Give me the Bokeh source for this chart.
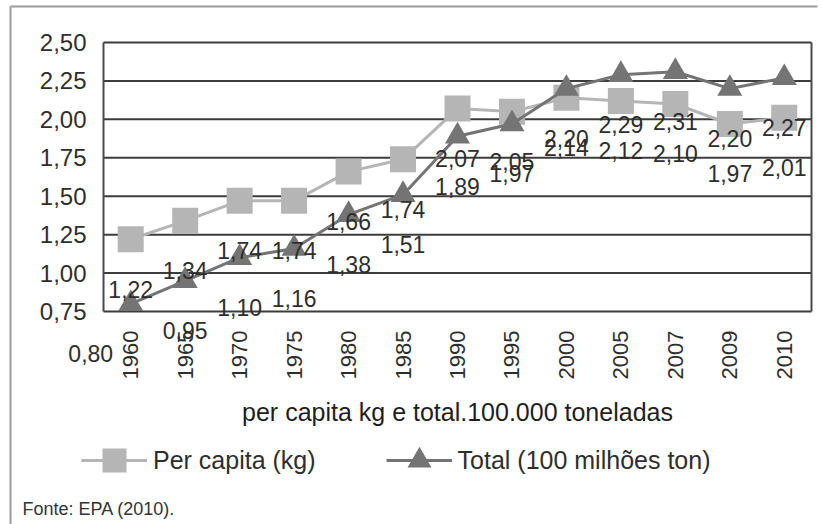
import math
from bokeh.plotting import figure
from bokeh.models import (ColumnDataSource, Range1d, FixedTicker,
                          LabelSet, Label, Legend, LegendItem)
from bokeh.embed import file_html
from bokeh.resources import INLINE
from bokeh.core.properties import value

# ---- data ----
years = ["1960", "1965", "1970", "1975", "1980", "1985", "1990",
         "1995", "2000", "2005", "2007", "2009", "2010"]
per_capita = [1.22, 1.34, 1.47, 1.47, 1.66, 1.74, 2.07, 2.05, 2.14, 2.12, 2.10, 1.97, 2.01]
per_capita_labels = ["1,22", "1,34", "1,74", "1,74", "1,66", "1,74", "2,07",
                     "2,05", "2,14", "2,12", "2,10", "1,97", "2,01"]
total = [0.80, 0.95, 1.10, 1.16, 1.38, 1.51, 1.89, 1.97, 2.20, 2.29, 2.31, 2.20, 2.27]
y_ticks = [0.75, 1.00, 1.25, 1.50, 1.75, 2.00, 2.25, 2.50]

FONT = "Liberation Sans"
TXT = "#2e2e2e"
PC_COLOR = "#b5b5b5"
TOT_COLOR = "#747474"
GRID = "#3c3c3c"


def br(v):
    return f"{v:.2f}".replace(".", ",")


n = len(years)
xs = list(range(n))
total_labels = [br(v) for v in total]
dx_total = [-40] + [0] * (n - 1)

src = ColumnDataSource(dict(x=xs, pc=per_capita, pcl=per_capita_labels,
                            tot=total, totl=total_labels, dxt=dx_total))

# ---- layout: plot box occupies canvas x 103..811, y 42..311 ----
W, H = 821, 524
box_l, box_r, box_t, box_b = 103, 811, 42, 311
x_lo, x_hi = -0.5, n - 0.5
y_lo, y_hi = y_ticks[0], y_ticks[-1]
pxx = (box_r - box_l) / (x_hi - x_lo)
pxy = (box_b - box_t) / (y_hi - y_lo)
x_start = x_lo - box_l / pxx
x_end = x_hi + (W - box_r) / pxx
y_end = y_hi + box_t / pxy
y_start = y_lo - (H - box_b) / pxy

p = figure(width=W, height=H, output_backend="svg", toolbar_location=None,
           x_range=Range1d(x_start, x_end), y_range=Range1d(y_start, y_end))
p.min_border_left = 0
p.min_border_top = 0
p.min_border_right = 0
p.min_border_bottom = 0
p.background_fill_color = "white"
p.border_fill_color = "white"
p.outline_line_color = None
p.xgrid.visible = False
p.ygrid.visible = False

# outer border (top and left)
bx = x_start + 10 / pxx
by = y_end - 6 / pxy
p.segment(x0=[bx, bx], y0=[by, by], x1=[x_start + 817 / pxx, bx], y1=[by, y_start],
          line_color="#9a9a9a", line_width=2)

# horizontal grid lines of the plot box
p.segment(x0=[x_lo] * len(y_ticks), y0=y_ticks, x1=[x_hi] * len(y_ticks), y1=y_ticks,
          line_color=GRID, line_width=2)
# box sides
p.segment(x0=[x_lo, x_hi], y0=[y_lo, y_lo], x1=[x_lo, x_hi], y1=[y_hi, y_hi],
          line_color="#4a4a4a", line_width=2)

# axes fixed on the box edges
p.yaxis.fixed_location = x_lo
p.yaxis.ticker = FixedTicker(ticks=y_ticks)
p.yaxis.major_label_overrides = {t: br(t) for t in y_ticks}
p.yaxis.axis_line_color = None
p.yaxis.major_tick_line_color = None
p.yaxis.minor_tick_line_color = None
p.yaxis.major_label_standoff = 11
p.yaxis.major_label_text_font = FONT
p.yaxis.major_label_text_font_size = "24px"
p.yaxis.major_label_text_color = TXT

p.xaxis.fixed_location = y_lo
p.xaxis.ticker = FixedTicker(ticks=xs)
p.xaxis.major_label_overrides = {i: y for i, y in zip(xs, years)}
p.xaxis.axis_line_color = None
p.xaxis.major_tick_line_color = None
p.xaxis.minor_tick_line_color = None
p.xaxis.major_label_orientation = math.pi / 2
p.xaxis.major_label_standoff = 13
p.xaxis.major_label_text_font = FONT
p.xaxis.major_label_text_font_size = "22px"
p.xaxis.major_label_text_color = TXT

# series
l1 = p.line("x", "pc", source=src, line_color=PC_COLOR, line_width=3)
s1 = p.scatter("x", "pc", source=src, marker="square", size=26,
               fill_color=PC_COLOR, line_color=None)
l2 = p.line("x", "tot", source=src, line_color=TOT_COLOR, line_width=3)
s2 = p.scatter("x", "tot", source=src, marker="triangle", size=25,
               fill_color=TOT_COLOR, line_color=None)

# value labels (as printed in the source chart, shifted below the marks)
p.add_layout(LabelSet(x="x", y="pc", text="pcl", source=src, y_offset=-50,
                      text_align="center", text_baseline="middle",
                      text_font=value(FONT), text_font_size=value("23px"),
                      text_color=TXT))
p.add_layout(LabelSet(x="x", y="tot", text="totl", source=src, y_offset=-50,
                      x_offset="dxt",
                      text_align="center", text_baseline="middle",
                      text_font=value(FONT), text_font_size=value("23px"),
                      text_color=TXT))

# axis title, centred under the box
p.add_layout(Label(x=(x_lo + x_hi) / 2, y=H - 411, x_units="data", y_units="screen",
                   text="per capita kg e total.100.000 toneladas",
                   text_align="center", text_baseline="middle",
                   text_font=FONT, text_font_size="25px",
                   text_color="#1e1e1e"))

# legend
legend = Legend(items=[LegendItem(label="Per capita (kg)", renderers=[l1, s1]),
                       LegendItem(label="Total (100 milhões ton)", renderers=[l2, s2])],
                orientation="horizontal", location=(81, H - 490),
                glyph_width=66, glyph_height=60, label_standoff=6, spacing=70,
                padding=0, margin=0, border_line_color=None,
                background_fill_alpha=0,
                label_text_font=FONT, label_text_font_size="25px",
                label_text_color=TXT)
p.add_layout(legend)

# source note
p.add_layout(Label(x=22, y=H - 508, x_units="screen", y_units="screen",
                   text="Fonte: EPA (2010).", text_align="left",
                   text_baseline="middle", text_font=FONT,
                   text_font_size="18px", text_color="#333333"))

open("out.html", "w").write(file_html(p, INLINE))
